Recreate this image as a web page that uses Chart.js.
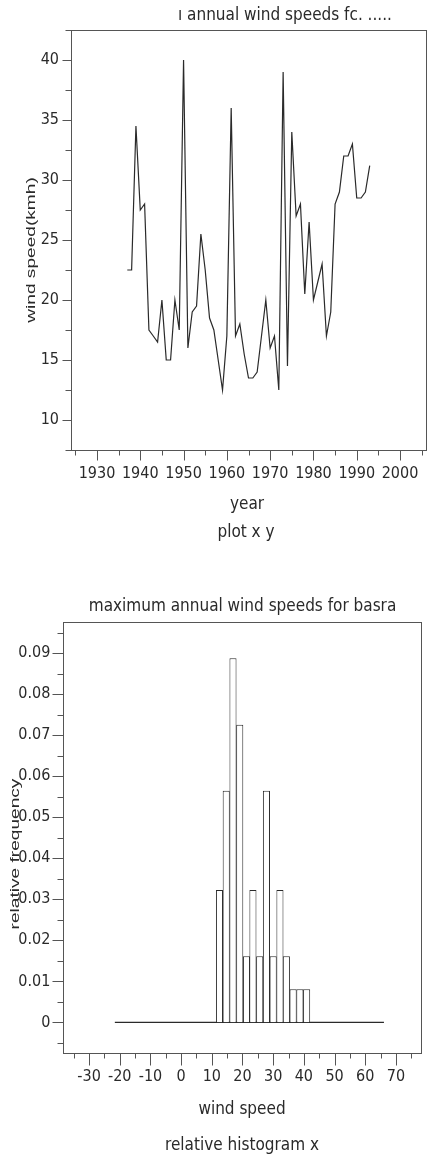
<!DOCTYPE html>
<html>
<head>
<meta charset="utf-8">
<title>maximum annual wind speeds for basra</title>
<script src="https://cdn.jsdelivr.net/npm/chart.js@4.4.1/dist/chart.umd.min.js"></script>
<style>
  html, body { margin: 0; padding: 0; background: #fff; }
  #wrap { position: relative; width: 430px; height: 1158px; overflow: hidden; }
  canvas { position: absolute; left: 0; }
  #lineChart { top: 0; }
  #histChart { top: 580px; }
</style>
</head>
<body>
<div id="wrap">
  <canvas id="lineChart" width="430" height="580"></canvas>
  <canvas id="histChart" width="430" height="578"></canvas>
</div>
<script>
// maximum annual wind speeds for basra (kmh), one value per year
const years = [1937, 1938, 1939, 1940, 1941, 1942, 1943, 1944, 1945, 1946,
               1947, 1948, 1949, 1950, 1951, 1952, 1953, 1954, 1955, 1956,
               1957, 1958, 1959, 1960, 1961, 1962, 1963, 1964, 1965, 1966,
               1967, 1968, 1969, 1970, 1971, 1972, 1973, 1974, 1975, 1976,
               1977, 1978, 1979, 1980, 1981, 1982, 1983, 1984, 1985, 1986,
               1987, 1988, 1989, 1990, 1991, 1992, 1993];
const windSpeeds = [22.5, 22.5, 34.5, 27.5, 28, 17.5, 17, 16.5, 20, 15,
                    15, 20, 17.5, 40, 16, 19, 19.5, 25.5, 22.5, 18.5,
                    17.5, 15, 12.5, 17, 36, 17, 18, 15.5, 13.5, 13.5,
                    14, 17, 20, 16, 17, 12.5, 39, 14.5, 34, 27,
                    28, 20.5, 26.5, 20, 21.5, 23, 17, 19, 28, 29,
                    32, 32, 33, 28.5, 28.5, 29, 31.2];

// relative histogram of the same speeds
const binCenters = [12.5, 14.7, 16.9, 19.1, 21.3, 23.4, 25.6, 27.8, 30.0, 32.2, 34.3, 36.5, 38.7, 40.9];
const relFreq = [0.0323, 0.0565, 0.0888, 0.0726, 0.0161, 0.0323, 0.0161,
                 0.0565, 0.0161, 0.0323, 0.0161, 0.0081, 0.0081, 0.0081];
const zeroLineRange = [-21.6, 66.1];

const INK = '#2a2a2a';
const AXIS = '#555';
const NARROW = "'Liberation Sans Narrow', 'DejaVu Sans Condensed', sans-serif";
const TICK_FONT = { family: NARROW, size: 16 };
const CAPTION_FONT = '17px ' + NARROW;
const SIDE_FONT = "13px 'Liberation Sans', sans-serif";

// box round the plot area, major/minor tick marks outside it
const axisFrame = {
    id: 'axisFrame',
    afterDraw(chart, args, opts) {
        const { ctx, chartArea: a, scales } = chart;
        ctx.save();
        ctx.strokeStyle = opts.color;
        ctx.lineWidth = 1;
        ctx.strokeRect(Math.round(a.left) + 0.5, Math.round(a.top) + 0.5,
                       Math.round(a.right - a.left), Math.round(a.bottom - a.top));
        const left = Math.round(a.left) + 0.5;
        const bottom = Math.round(a.bottom) + 0.5;
        ctx.beginPath();
        scales.y.ticks.forEach(t => {
            const len = t.label ? opts.yMajor : opts.yMinor;
            const py = Math.round(scales.y.getPixelForValue(t.value)) + 0.5;
            ctx.moveTo(left - len, py);
            ctx.lineTo(left, py);
        });
        scales.x.ticks.forEach(t => {
            const len = t.label ? opts.xMajor : opts.xMinor;
            const px = Math.round(scales.x.getPixelForValue(t.value)) + 0.5;
            ctx.moveTo(px, bottom);
            ctx.lineTo(px, bottom + len);
        });
        ctx.stroke();
        ctx.restore();
    }
};

// titles: plain text, side ones turned and stretched like the original print
const captions = {
    id: 'captions',
    afterDraw(chart, args, opts) {
        const ctx = chart.ctx;
        (opts.items || []).forEach(c => {
            ctx.save();
            ctx.fillStyle = INK;
            ctx.font = c.font || CAPTION_FONT;
            ctx.textAlign = c.align || 'center';
            ctx.textBaseline = c.rotate ? 'middle' : 'alphabetic';
            ctx.translate(c.x, c.y);
            if (c.rotate) {
                ctx.rotate(-Math.PI / 2);
                ctx.scale(c.stretch || 1, 1);
            }
            ctx.fillText(c.text, 0, 0);
            ctx.restore();
        });
    }
};

function tickOpts(step, padding, labelFn) {
    return {
        stepSize: step,
        includeBounds: false,
        autoSkip: false,
        maxRotation: 0,
        padding: padding,
        color: INK,
        font: TICK_FONT,
        callback: labelFn
    };
}

// fixed axis sizes, no extra room for overhanging labels
function fixX(h) {
    return s => { s.height = h; s.paddingLeft = 0; s.paddingRight = 0; };
}
function fixY(w) {
    return s => { s.width = w; s.paddingTop = 0; s.paddingBottom = 0; };
}

const noGrid = { display: false, drawTicks: false };

new Chart(document.getElementById('lineChart'), {
    type: 'line',
    data: {
        datasets: [{
            data: years.map((yr, i) => ({ x: yr, y: windSpeeds[i] })),
            borderColor: INK,
            borderWidth: 1.2,
            pointRadius: 0,
            tension: 0,
            fill: false
        }]
    },
    options: {
        responsive: false,
        animation: false,
        devicePixelRatio: 1,
        events: [],
        layout: { padding: { top: 30, right: 4, left: 0, bottom: 0 } },
        plugins: {
            legend: { display: false },
            tooltip: { enabled: false },
            axisFrame: { color: AXIS, xMajor: 10, xMinor: 5, yMajor: 9, yMinor: 6 },
            captions: {
                items: [
                    { text: 'ı annual wind speeds fc. .....', x: 178, y: 19.5, align: 'left' },
                    { text: 'year', x: 247, y: 509 },
                    { text: 'plot x y', x: 246, y: 537 },
                    { text: 'wind speed(kmh)', x: 31, y: 250, rotate: true, stretch: 1.47, font: SIDE_FONT }
                ]
            }
        },
        scales: {
            x: {
                type: 'linear',
                min: 1924,
                max: 2006,
                border: { display: false },
                grid: noGrid,
                ticks: tickOpts(5, 14, v => v % 10 === 0 ? String(v) : ''),
                afterFit: fixX(130)
            },
            y: {
                type: 'linear',
                min: 7.5,
                max: 42.5,
                border: { display: false },
                grid: noGrid,
                ticks: tickOpts(2.5, 12, v => v % 5 === 0 ? String(v) : ''),
                afterFit: fixY(71)
            }
        }
    },
    plugins: [axisFrame, captions]
});

function freqLabel(v) {
    const k = Math.round(v * 1000);
    if (k % 10 !== 0) return '';
    return k === 0 ? '0' : (k / 1000).toFixed(2);
}

new Chart(document.getElementById('histChart'), {
    type: 'bar',
    data: {
        datasets: [{
            type: 'bar',
            data: binCenters.map((c, i) => ({ x: c, y: relFreq[i] })),
            backgroundColor: '#fff',
            borderColor: INK,
            borderWidth: 1,
            barPercentage: 1.1,
            categoryPercentage: 1
        }, {
            type: 'line',
            data: zeroLineRange.map(x => ({ x: x, y: 0 })),
            borderColor: INK,
            borderWidth: 1.2,
            pointRadius: 0
        }]
    },
    options: {
        responsive: false,
        animation: false,
        devicePixelRatio: 1,
        events: [],
        layout: { padding: { top: 41.7, right: 8.3, left: 0, bottom: 0 } },
        plugins: {
            legend: { display: false },
            tooltip: { enabled: false },
            axisFrame: { color: AXIS, xMajor: 12, xMinor: 5, yMajor: 11, yMinor: 6 },
            captions: {
                items: [
                    { text: 'maximum annual wind speeds for basra', x: 242.5, y: 30.7 },
                    { text: 'wind speed', x: 242, y: 534 },
                    { text: 'relative histogram x', x: 242, y: 570 },
                    { text: 'relative frequency', x: 15, y: 274, rotate: true, stretch: 1.47, font: SIDE_FONT }
                ]
            }
        },
        scales: {
            x: {
                type: 'linear',
                offset: false,
                min: -38.4,
                max: 78.4,
                border: { display: false },
                grid: { display: false, drawTicks: false, offset: false },
                ticks: tickOpts(5, 15, v => v % 10 === 0 ? String(v) : ''),
                afterFit: fixX(105.3)
            },
            y: {
                type: 'linear',
                min: -0.0074,
                max: 0.0977,
                border: { display: false },
                grid: noGrid,
                ticks: tickOpts(0.005, 13, freqLabel),
                afterFit: fixY(63.3)
            }
        }
    },
    plugins: [axisFrame, captions]
});
</script>
</body>
</html>
